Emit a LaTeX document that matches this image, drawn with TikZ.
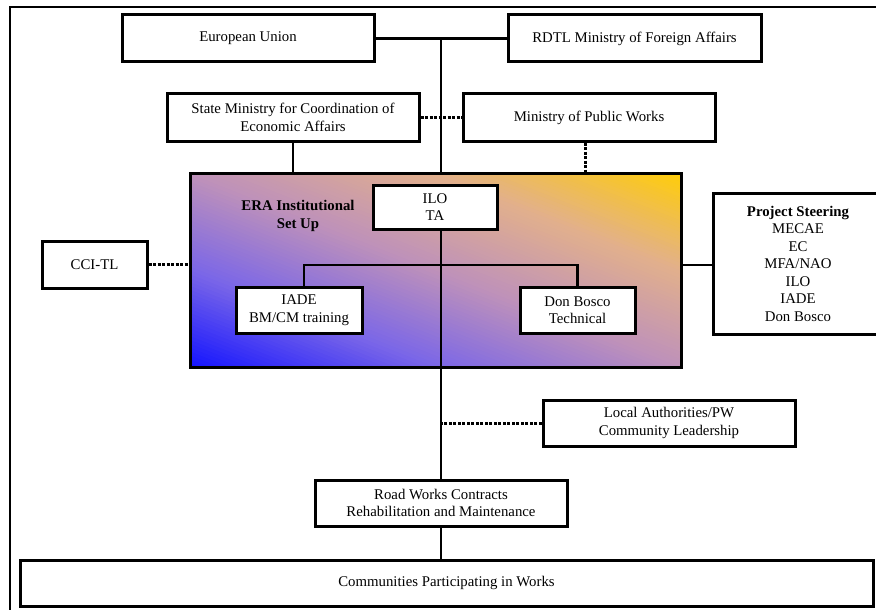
\documentclass[tikz,border=0pt]{standalone}
\usepackage{fontspec}
\setmainfont{Liberation Serif}
\definecolor{gc0}{RGB}{20,20,255}
\definecolor{gc1}{RGB}{122,102,232}
\definecolor{gc2}{RGB}{190,145,186}
\definecolor{gc3}{RGB}{226,176,140}
\definecolor{gc4}{RGB}{255,205,10}
\begin{document}
\begin{tikzpicture}[x=1pt,y=-1pt,
  box/.style={draw, line width=3pt, fill=white, inner sep=0pt, align=center,
    font=\fontsize{14.8}{17.5}\selectfont},
  link/.style={line width=2.6pt},
  dotlink/.style={line width=3pt, dash pattern=on 3pt off 1.5pt},
  frame/.style={line width=2pt}]
\useasboundingbox (0,0) rectangle (876,610);
\fill[white] (0,0) rectangle (876,610);
\clip (0,0) rectangle (876,610);
\draw[frame] (10,620) -- (10,7) -- (890,7);

% ERA set-up (shaded)
\path node[minimum width=490pt, minimum height=193pt, inner sep=0pt] (era) at (436,270.5) {};
\begin{scope}
  \clip (era.south west) rectangle (era.north east);
  \begin{scope}[shift={(era.south west)}, x={(490pt,0pt)}, y={(0pt,193pt)}]
    \foreach \ca/\cb/\k in {gc0/gc1/0, gc1/gc2/1, gc2/gc3/2, gc3/gc4/3}{
      \foreach \j in {0,...,24}{
        \pgfmathsetmacro{\sa}{2*(\k*0.25+\j*0.01)}
        \pgfmathsetmacro{\sb}{\sa+0.026}
        \pgfmathtruncatemacro{\pp}{\j*4+2}
        \fill[\cb!\pp!\ca] (-1,\sa+1) -- (2,\sa-2) -- (2,\sb-2) -- (-1,\sb+1) -- cycle;
      }
    }
  \end{scope}
\end{scope}
\draw[line width=3pt] (era.south west) rectangle (era.north east);
\node[align=center, font=\bfseries\fontsize{14.8}{17.5}\selectfont] (eralabel) at (298,216)
  {ERA Institutional\\Set Up};

\node[box, minimum width=252pt, minimum height=47pt] (eu) at (248,38.5) {European Union};
\node[box, minimum width=253pt, minimum height=47pt] (rdtl) at (634.5,38.5) {RDTL Ministry of Foreign Affairs};
\node[box, minimum width=252pt, minimum height=47pt] (smc) at (293,117.5) {State Ministry for Coordination of\\Economic Affairs};
\node[box, minimum width=252pt, minimum height=47pt] (mpw) at (589,117.5) {Ministry of Public Works};
\node[box, minimum width=124pt, minimum height=44pt] (ilo) at (435,207) {ILO\\TA};
\node[box, minimum width=126pt, minimum height=46pt] (iade) at (299,310) {IADE\\BM/CM training};
\node[box, minimum width=115pt, minimum height=46pt] (don) at (577.5,310) {Don Bosco\\Technical};
\node[box, minimum width=105pt, minimum height=47pt] (cci) at (94.5,264.5) {CCI-TL};
\node[box, minimum width=170pt, minimum height=141pt] (ps) at (798,263.5)
  {{\bfseries Project Steering}\\MECAE\\EC\\MFA/NAO\\ILO\\IADE\\Don Bosco};
\node[box, minimum width=252pt, minimum height=46pt] (local) at (669,423) {Local Authorities/PW\\Community Leadership};
\node[box, minimum width=252pt, minimum height=46pt] (road) at (441,503) {Road Works Contracts\\Rehabilitation and Maintenance};
\node[box, minimum width=853pt, minimum height=46pt] (comm) at (446.5,583) {Communities Participating in Works};

\coordinate (br) at (441,265);

% connectors
\draw[link] (eu) -- (rdtl);
\draw[link] (eu.east -| road.north) -- (era.north -| road.north);
\draw[link] (smc.south) -- (smc.south |- era.north);
\draw[dotlink] (smc.east) -- (mpw.west);
\draw[dotlink] ([xshift=-4pt]mpw.south) -- ([xshift=-4pt]mpw.south |- era.north);
\draw[dotlink] (cci.east) -- (cci.east -| era.west);
\draw[link] (ps.west |- br) -- (era.east |- br);
\draw[link] (ilo.south -| road.north) -- (road.north);
\draw[link] ([xshift=5pt]iade.north) |- (br) -| (don.north);
\draw[dotlink] (local.west) -- (local.west -| road.north);
\draw[link] (road.south) -- (road.south |- comm.north);
\end{tikzpicture}
\end{document}
